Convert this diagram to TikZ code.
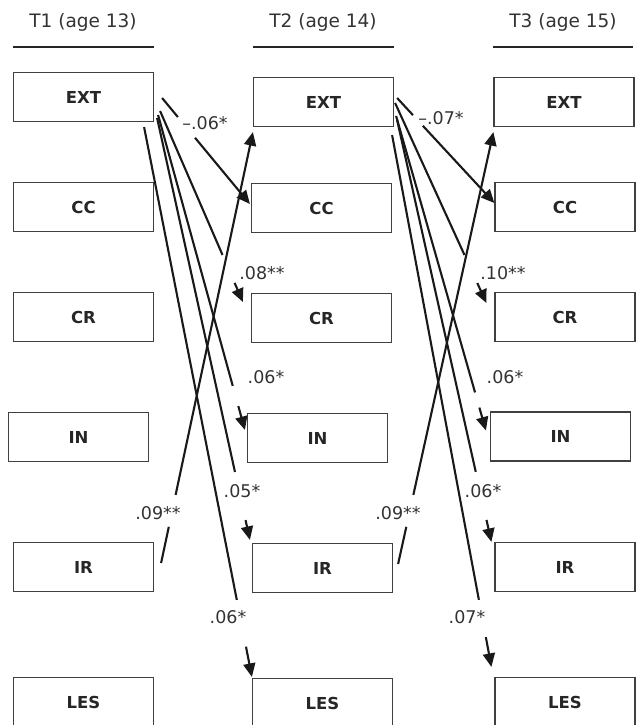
\documentclass[tikz,border=0pt]{standalone}
\usepackage{fontspec}
\setmainfont{DejaVu Sans}
\usetikzlibrary{arrows.meta,calc}

\begin{document}
\begin{tikzpicture}[x=1pt,y=-1pt,>={Triangle[length=13.5pt,width=12pt]},
  box/.style={draw=black!75,line width=1.2pt,minimum width=140pt,minimum height=49pt,inner sep=0pt,font=\fontsize{16.5}{18}\selectfont\bfseries,text=black!85},
  head/.style={font=\fontsize{18.5}{20}\selectfont,text=black!80},
  coef/.style={font=\fontsize{17.5}{19}\selectfont,text=black!80,inner sep=0pt},
  link/.style={line width=2.1pt,black!90}]
\useasboundingbox (0,0) rectangle (636,725);

% waves
\node[head] (t1) at (83,22) {T1 (age 13)};
\node[head] (t2) at (323,22) {T2 (age 14)};
\node[head] (t3) at (563,22) {T3 (age 15)};
\draw[black!85,line width=1.2pt] (13,47) -- (154,47);
\draw[black!85,line width=1.2pt] (253,47) -- (394,47);
\draw[black!85,line width=1.2pt] (493,47) -- (633,47);

% T1
\node[box] (ext1) at (83.5,97) {EXT};
\node[box] (cc1) at (83.5,207) {CC};
\node[box] (cr1) at (83.5,317) {CR};
\node[box] (in1) at (78.5,437) {IN};
\node[box] (ir1) at (83.5,567) {IR};
\node[box] (les1) at (83.5,702) {LES};

% T2
\node[box] (ext2) at (323.5,102) {EXT};
\node[box] (cc2) at (321.5,208) {CC};
\node[box] (cr2) at (321.5,318) {CR};
\node[box] (in2) at (317.5,438) {IN};
\node[box] (ir2) at (322.5,568) {IR};
\node[box] (les2) at (322.5,703) {LES};

% T3
\node[box] (ext3) at (564,102) {EXT};
\node[box] (cc3) at (565,207) {CC};
\node[box] (cr3) at (565,317) {CR};
\node[box] (in3) at (560.5,436.5) {IN};
\node[box] (ir3) at (565,567) {IR};
\node[box] (les3) at (565,702) {LES};

% ends of the T1 -> T2 paths
\coordinate (a1) at ($(ext1.east)+(8,1)$);
\coordinate (b1) at ($(cc2.west)+(-1,-4)$);
\coordinate (a2) at ($(ext1.east)+(6,14)$);
\coordinate (b2) at ($(cr2.west)+(-8,-16)$);
\coordinate (a3) at ($(ext1.east)+(4,18)$);
\coordinate (b3) at ($(in2.west)+(-2,-8)$);
\coordinate (a4) at ($(ext1.east)+(3,21)$);
\coordinate (b4) at ($(ir2.north west)+(-2,-3)$);
\coordinate (a5) at ($(ext1.south east)+(-10,5)$);
\coordinate (b5) at ($(les2.north west)+(0,-1)$);
\coordinate (a6) at ($(ir1.east)+(7,-4)$);
\coordinate (b6) at ($(ext2.south west)+(0,5)$);

% ends of the T2 -> T3 paths
\coordinate (c1) at ($(ext2.east)+(3,-4)$);
\coordinate (d1) at ($(cc3.west)+(0,-4)$);
\coordinate (c2) at ($(ext2.east)+(1,1)$);
\coordinate (d2) at ($(cr3.west)+(-8,-14)$);
\coordinate (c3) at ($(ext2.east)+(2,14)$);
\coordinate (d3) at ($(in3.west)+(-4,-6)$);
\coordinate (c4) at ($(ext2.east)+(3,18)$);
\coordinate (d4) at ($(ir3.north west)+(-3,0)$);
\coordinate (c5) at ($(ext2.south east)+(-2,8)$);
\coordinate (d5) at ($(les3.north west)+(-3,-10)$);
\coordinate (c6) at ($(ir2.east)+(5,-4)$);
\coordinate (d6) at ($(ext3.south west)+(0,5)$);

% T1 -> T2
\draw[link,->] (a1) -- ($(a1)!.18!(b1)$) ($(a1)!.375!(b1)$) -- (b1);
\draw[link,->] (a2) -- ($(a2)!.754!(b2)$) ($(a2)!.9!(b2)$) -- (b2);
\draw[link,->] (a3) -- ($(a3)!.86!(b3)$) ($(a3)!.924!(b3)$) -- (b3);
\draw[link,->] (a4) -- ($(a4)!.839!(b4)$) ($(a4)!.953!(b4)$) -- (b4);
\draw[link,->] (a5) -- ($(a5)!.86!(b5)$) ($(a5)!.945!(b5)$) -- (b5);
\draw[link,->] (a6) -- ($(a6)!.084!(b6)$) ($(a6)!.158!(b6)$) -- (b6);
\node[coef] (p1) at (205,123) {--.06*};
\node[coef] (p2) at (262,273) {.08**};
\node[coef] (p3) at (266,377) {.06*};
\node[coef] (p4) at (242,491) {.05*};
\node[coef] (p5) at (228,617) {.06*};
\node[coef] (p6) at (158,513) {.09**};

% T2 -> T3
\draw[link,->] (c1) -- ($(c1)!.163!(d1)$) ($(c1)!.265!(d1)$) -- (d1);
\draw[link,->] (c2) -- ($(c2)!.76!(d2)$) ($(c2)!.9!(d2)$) -- (d2);
\draw[link,->] (c3) -- ($(c3)!.879!(d3)$) ($(c3)!.927!(d3)$) -- (d3);
\draw[link,->] (c4) -- ($(c4)!.834!(d4)$) ($(c4)!.948!(d4)$) -- (d4);
\draw[link,->] (c5) -- ($(c5)!.874!(d5)$) ($(c5)!.944!(d5)$) -- (d5);
\draw[link,->] (c6) -- ($(c6)!.086!(d6)$) ($(c6)!.16!(d6)$) -- (d6);
\node[coef] (q1) at (441,118) {--.07*};
\node[coef] (q2) at (503,273) {.10**};
\node[coef] (q3) at (505,377) {.06*};
\node[coef] (q4) at (483,491) {.06*};
\node[coef] (q5) at (467,617) {.07*};
\node[coef] (q6) at (398,513) {.09**};
\end{tikzpicture}
\end{document}
